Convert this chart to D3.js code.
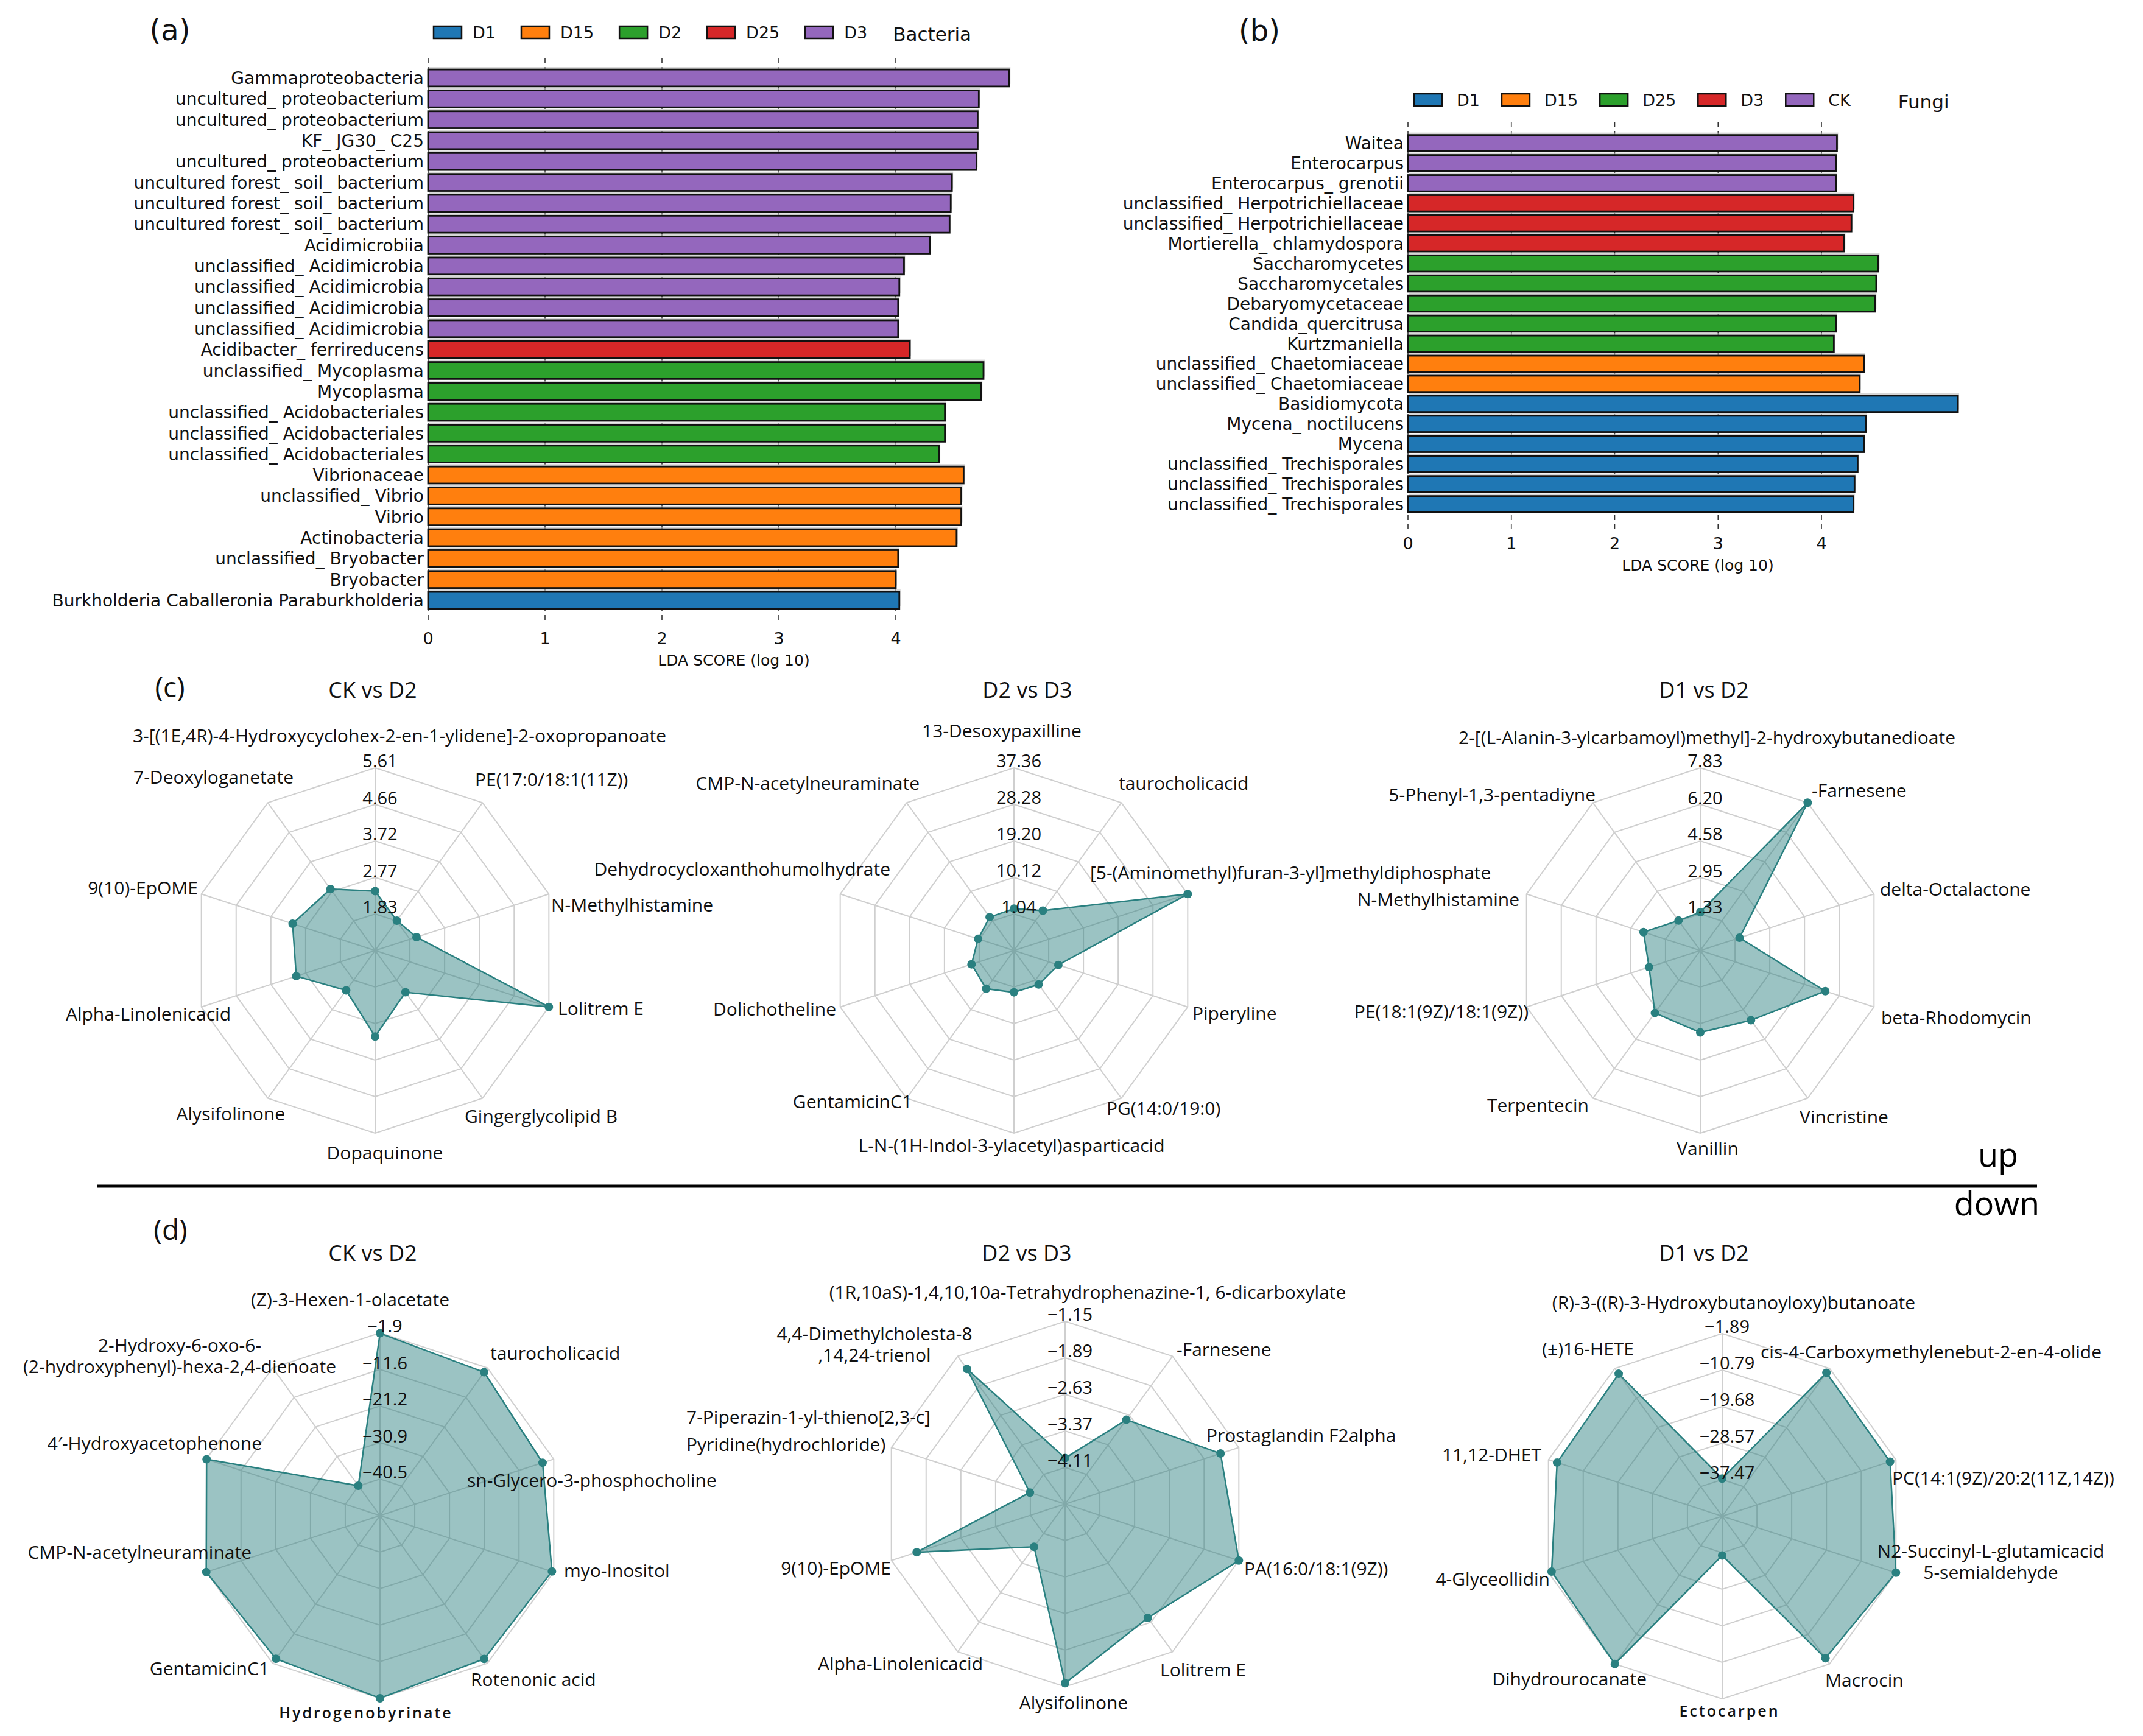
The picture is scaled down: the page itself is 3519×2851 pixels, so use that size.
<!DOCTYPE html>
<html>
<head>
<meta charset="utf-8">
<script src="https://cdn.jsdelivr.net/npm/d3@7"></script>
<style>
  body { margin: 0; background: #fff; }
  svg { display: block; }
</style>
</head>
<body>
<script>
// ---- (a) bacteria LEfSe ----
const bacteriaKeys = ["D1", "D15", "D2", "D25", "D3"];
const bacteriaTaxa = [
  "Gammaproteobacteria", "uncultured_ proteobacterium", "uncultured_ proteobacterium", "KF_ JG30_ C25",
  "uncultured_ proteobacterium", "uncultured forest_ soil_ bacterium", "uncultured forest_ soil_ bacterium",
  "uncultured forest_ soil_ bacterium", "Acidimicrobiia", "unclassified_ Acidimicrobia", "unclassified_ Acidimicrobia",
  "unclassified_ Acidimicrobia", "unclassified_ Acidimicrobia", "Acidibacter_ ferrireducens", "unclassified_ Mycoplasma",
  "Mycoplasma", "unclassified_ Acidobacteriales", "unclassified_ Acidobacteriales", "unclassified_ Acidobacteriales",
  "Vibrionaceae", "unclassified_ Vibrio", "Vibrio", "Actinobacteria", "unclassified_ Bryobacter", "Bryobacter",
  "Burkholderia Caballeronia Paraburkholderia"
];
const bacteriaGroups = [
  "D3", "D3", "D3", "D3", "D3", "D3", "D3", "D3", "D3", "D3", "D3", "D3", "D3",
  "D25", "D2", "D2", "D2", "D2", "D2", "D15", "D15", "D15", "D15", "D15", "D15", "D1"
];
const bacteriaScores = [
  4.97, 4.71, 4.70, 4.70, 4.69, 4.48, 4.47, 4.46, 4.29, 4.07, 4.03, 4.02, 4.02,
  4.12, 4.75, 4.73, 4.42, 4.42, 4.37, 4.58, 4.56, 4.56, 4.52, 4.02, 4.00, 4.03
];

// ---- (b) fungi LEfSe ----
const fungiKeys = ["D1", "D15", "D25", "D3", "CK"];
const fungiTaxa = [
  "Waitea", "Enterocarpus", "Enterocarpus_ grenotii", "unclassified_ Herpotrichiellaceae",
  "unclassified_ Herpotrichiellaceae", "Mortierella_ chlamydospora", "Saccharomycetes", "Saccharomycetales",
  "Debaryomycetaceae", "Candida_quercitrusa", "Kurtzmaniella", "unclassified_ Chaetomiaceae",
  "unclassified_ Chaetomiaceae", "Basidiomycota", "Mycena_ noctilucens", "Mycena",
  "unclassified_ Trechisporales", "unclassified_ Trechisporales", "unclassified_ Trechisporales"
];
const fungiGroups = [
  "CK", "CK", "CK", "D3", "D3", "D3", "D25", "D25", "D25", "D25", "D25",
  "D15", "D15", "D1", "D1", "D1", "D1", "D1", "D1"
];
const fungiScores = [
  4.15, 4.14, 4.14, 4.31, 4.29, 4.22, 4.55, 4.53, 4.52, 4.14, 4.12,
  4.41, 4.37, 5.32, 4.43, 4.41, 4.35, 4.32, 4.31
];
const ldaTicks = [0, 1, 2, 3, 4];

// ---- (c) up-regulated radars ----
const upCKD2Names = ["3-[(1E,4R)-4-Hydroxycyclohex-2-en-1-ylidene]-2-oxopropanoate", "PE(17:0/18:1(11Z))",
  "N-Methylhistamine", "Lolitrem E", "Gingerglycolipid B", "Dopaquinone", "Alysifolinone",
  "Alpha-Linolenicacid", "9(10)-EpOME", "7-Deoxyloganetate"];
const upCKD2Values = [2.42, 1.84, 2.01, 5.61, 2.22, 3.11, 2.16, 3.03, 3.13, 2.85];
const upCKD2Ticks = ["1.83", "2.77", "3.72", "4.66", "5.61"];

const upD2D3Names = ["13-Desoxypaxilline", "taurocholicacid", "[5-(Aminomethyl)furan-3-yl]methyldiphosphate",
  "Piperyline", "PG(14:0/19:0)", "L-N-(1H-Indol-3-ylacetyl)asparticacid", "GentamicinC1", "Dolichotheline",
  "Dehydrocycloxanthohumolhydrate", "CMP-N-acetylneuraminate"];
const upD2D3Values = [2.35, 4.2, 37.36, 3.56, 2.4, 2.35, 3.7, 3.05, 1.33, 2.22];
const upD2D3Ticks = ["1.04", "10.12", "19.20", "28.28", "37.36"];

const upD1D2Names = ["2-[(L-Alanin-3-ylcarbamoyl)methyl]-2-hydroxybutanedioate", "-Farnesene", "delta-Octalactone",
  "beta-Rhodomycin", "Vincristine", "Vanillin", "Terpentecin", "PE(18:1(9Z)/18:1(9Z))", "N-Methylhistamine",
  "5-Phenyl-1,3-pentadiyne"];
const upD1D2Values = [1.41, 7.83, 1.54, 5.55, 3.54, 3.35, 3.14, 2.1, 2.36, 1.35];
const upD1D2Ticks = ["1.33", "2.95", "4.58", "6.20", "7.83"];

// ---- (d) down-regulated radars ----
const downCKD2Names = ["(Z)-3-Hexen-1-olacetate", "taurocholicacid", "sn-Glycero-3-phosphocholine", "myo-Inositol",
  "Rotenonic acid", "Hydrogenobyrinate", "GentamicinC1", "CMP-N-acetylneuraminate", "4\u2032-Hydroxyacetophenone",
  "2-Hydroxy-6-oxo-6-\n(2-hydroxyphenyl)-hexa-2,4-dienoate"];
const downCKD2Values = [-2.0, -3.35, -5.0, -2.4, -3.35, -1.9, -3.4, -1.9, -2.0, -40.4];
const downCKD2Ticks = ["\u221240.5", "\u221230.9", "\u221221.2", "\u221211.6", "\u22121.9"];

const downD2D3Names = ["(1R,10aS)-1,4,10,10a-Tetrahydrophenazine-1, 6-dicarboxylate", "-Farnesene",
  "Prostaglandin F2alpha", "PA(16:0/18:1(9Z))", "Lolitrem E", "Alysifolinone", "Alpha-Linolenicacid",
  "9(10)-EpOME", "7-Piperazin-1-yl-thieno[2,3-c]\nPyridine(hydrochloride)", "4,4-Dimethylcholesta-8\n,14,24-trienol"];
const downD2D3Values = [-3.92, -2.74, -1.54, -1.15, -2.0, -1.22, -3.78, -1.69, -4.1, -1.47];
const downD2D3Ticks = ["\u22124.11", "\u22123.37", "\u22122.63", "\u22121.89", "\u22121.15"];

const downD1D2Names = ["(R)-3-((R)-3-Hydroxybutanoyloxy)butanoate", "cis-4-Carboxymethylenebut-2-en-4-olide",
  "PC(14:1(9Z)/20:2(11Z,14Z))", "N2-Succinyl-L-glutamicacid\n5-semialdehyde", "Macrocin", "Ectocarpen",
  "Dihydrourocanate", "4-Glyceollidin", "11,12-DHET", "(\u00b1)16-HETE"];
const downD1D2Values = [-37.2, -3.2, -3.4, -1.89, -3.6, -36.8, -1.89, -2.7, -4.1, -3.5];
const downD1D2Ticks = ["\u221237.47", "\u221228.57", "\u221219.68", "\u221210.79", "\u22121.89"];

// label placement around each radar: [anchor, dx, dy, lineGap, small]
const upCKD2Spots = [["middle", 40, -353], ["start", 164, -281], ["start", 289, -75], ["start", 300, 95],
  ["start", 147, 272], ["middle", 16, 332], ["end", -148, 268], ["end", -237, 104], ["end", -291, -103], ["end", -134, -285]];
const upD2D3Spots = [["middle", -20, -361], ["start", 172, -275], ["start", 125, -128], ["start", 293, 103],
  ["start", 152, 259], ["middle", -4, 320], ["end", -167, 248], ["end", -292, 96], ["end", -203, -134], ["end", -155, -275]];
const upD1D2Spots = [["middle", 11, -350], ["start", 183, -263], ["start", 295, -101], ["start", 297, 110],
  ["start", 163, 273], ["middle", 12, 325], ["end", -183, 254], ["end", -282, 100], ["end", -297, -84], ["end", -172, -256]];
const downCKD2Spots = [["middle", -49, -355], ["start", 181, -267], ["start", 143, -58], ["start", 302, 90],
  ["start", 149, 269], ["middle", -23, 324, 0, true], ["end", -182, 251], ["end", -211, 60], ["end", -194, -119],
  ["middle", -329, -280, 35]];
const downD2D3Spots = [["middle", 37, -348], ["start", 183, -254], ["start", 232, -113], ["start", 294, 106],
  ["start", 156, 272], ["middle", 14, 326], ["end", -135, 262], ["end", -286, 105], ["start", -622, -143, 45],
  ["middle", -313, -280, 35]];
const downD1D2Spots = [["middle", 19, -351], ["start", 63, -270], ["start", 279, -63], ["middle", 441, 57, 35],
  ["start", 169, 269], ["middle", 12, 320, 0, true], ["end", -124, 267], ["end", -283, 103], ["end", -297, -101],
  ["end", -145, -275]];

const W = 3519, H = 2851;
const BAR_FONT = "'DejaVu Sans', sans-serif";
const RADAR_FONT = "'Open Sans', sans-serif";
const TEAL = "#2a8080";

const svg = d3.select("body").append("svg")
  .attr("width", W)
  .attr("height", H)
  .style("background", "#fff");

function lefse(cfg) {
  const color = d3.scaleOrdinal().domain(cfg.keys).range(d3.schemeCategory10);
  const x = d3.scaleLinear().domain([0, 4]).range([cfg.x0, cfg.x4]);
  const y = d3.scalePoint().domain(d3.range(cfg.taxa.length)).range([cfg.yFirst, cfg.yLast]);
  const bh = y.step() * 0.81;
  const g = svg.append("g").style("font-family", BAR_FONT);

  // dashed grid
  g.selectAll("line.grid").data(ldaTicks).join("line")
    .attr("x1", d => x(d)).attr("x2", d => x(d))
    .attr("y1", cfg.gridTop).attr("y2", cfg.gridBot)
    .attr("stroke", "#333").attr("stroke-width", 1.6)
    .attr("stroke-dasharray", "9,6");

  // soft shadow then bars
  g.selectAll("rect.shadow").data(cfg.scores).join("rect")
    .attr("x", x(0) + 2).attr("y", (d, i) => y(i) - bh / 2 - 4)
    .attr("width", d => x(d) - x(0)).attr("height", bh)
    .attr("fill", "#bbb").attr("opacity", 0.6);

  g.selectAll("rect.bar").data(cfg.scores).join("rect")
    .attr("x", x(0)).attr("y", (d, i) => y(i) - bh / 2)
    .attr("width", d => x(d) - x(0)).attr("height", bh)
    .attr("fill", (d, i) => color(cfg.groups[i]))
    .attr("stroke", "#111").attr("stroke-width", 2.8);

  g.selectAll("text.taxon").data(cfg.taxa).join("text")
    .attr("x", x(0) - 7).attr("y", (d, i) => y(i))
    .attr("dy", "0.36em").attr("text-anchor", "end")
    .attr("font-size", 28).attr("fill", "#111")
    .text(d => d);

  g.selectAll("text.tick").data(ldaTicks).join("text")
    .attr("x", d => x(d)).attr("y", cfg.tickY)
    .attr("dy", "0.36em").attr("text-anchor", "middle")
    .attr("font-size", 27).attr("fill", "#111")
    .text(d => d);

  g.append("text")
    .attr("x", cfg.titleX).attr("y", cfg.titleY)
    .attr("dy", "0.36em").attr("text-anchor", "middle")
    .attr("font-size", 25).attr("fill", "#111")
    .text("LDA SCORE (log 10)");

  // legend
  let lx = cfg.legendX;
  cfg.keys.forEach(k => {
    g.append("rect")
      .attr("x", lx).attr("y", cfg.legendY - 10)
      .attr("width", 46).attr("height", 20)
      .attr("fill", color(k)).attr("stroke", "#111").attr("stroke-width", 2.5);
    const t = g.append("text")
      .attr("x", lx + cfg.textOff).attr("y", cfg.legendY)
      .attr("dy", "0.36em").attr("font-size", 27).attr("fill", "#111")
      .text(k);
    lx += cfg.textOff + t.node().getComputedTextLength() + cfg.legendGap;
  });
  g.append("text")
    .attr("x", lx + cfg.nameGap).attr("y", cfg.legendY + 3)
    .attr("dy", "0.36em").attr("font-size", 31).attr("fill", "#111")
    .text(cfg.name);
}

lefse({
  keys: bacteriaKeys, taxa: bacteriaTaxa, groups: bacteriaGroups, scores: bacteriaScores,
  x0: 703, x4: 1471, yFirst: 128, yLast: 986, gridTop: 95, gridBot: 1025,
  tickY: 1048, titleX: 1205, titleY: 1084,
  legendX: 712, legendY: 53, textOff: 64, legendGap: 42, nameGap: 0, name: "Bacteria"
});

lefse({
  keys: fungiKeys, taxa: fungiTaxa, groups: fungiGroups, scores: fungiScores,
  x0: 2312, x4: 2991, yFirst: 235, yLast: 828, gridTop: 200, gridBot: 872,
  tickY: 892, titleX: 2788, titleY: 928,
  legendX: 2322, legendY: 164, textOff: 70, legendGap: 36, nameGap: 42, name: "Fungi"
});

function radar(cx, cy, names, values, ticks, spots, title, titleX, titleY) {
  const R = 300, n = names.length;
  const tv = ticks.map(t => +t.replace("\u2212", "-"));
  const step = (tv[4] - tv[0]) / 4;
  const r = d3.scaleLinear().domain([tv[0] - step, tv[4]]).range([0, R]);
  const ang = d3.scaleLinear().domain([0, n]).range([0, 2 * Math.PI]);
  const g = svg.append("g")
    .attr("transform", `translate(${cx},${cy})`)
    .style("font-family", RADAR_FONT);

  const ring = d3.lineRadial()
    .angle((d, i) => ang(i))
    .radius(d => d)
    .curve(d3.curveLinearClosed);

  d3.range(1, 6).forEach(k => {
    g.append("path")
      .attr("d", ring(d3.range(n).map(() => k * R / 5)))
      .attr("fill", "none").attr("stroke", "#cfcfcf").attr("stroke-width", 2);
  });

  g.selectAll("line.spoke").data(d3.range(n)).join("line")
    .attr("x1", 0).attr("y1", 0)
    .attr("x2", i => R * Math.sin(ang(i)))
    .attr("y2", i => -R * Math.cos(ang(i)))
    .attr("stroke", "#cfcfcf").attr("stroke-width", 2);

  const area = d3.lineRadial()
    .angle((d, i) => ang(i))
    .radius(d => r(d))
    .curve(d3.curveLinearClosed);

  g.append("path")
    .attr("d", area(values))
    .attr("fill", TEAL).attr("fill-opacity", 0.47)
    .attr("stroke", TEAL).attr("stroke-width", 2.5);

  g.selectAll("circle").data(values).join("circle")
    .attr("cx", (d, i) => r(d) * Math.sin(ang(i)))
    .attr("cy", (d, i) => -r(d) * Math.cos(ang(i)))
    .attr("r", 7)
    .attr("fill", TEAL);

  ticks.forEach((t, k) => {
    g.append("text")
      .attr("x", 8).attr("y", -r(tv[k]) - 11)
      .attr("dy", "0.36em").attr("text-anchor", "middle")
      .attr("font-size", 29).attr("fill", "#111")
      .text(t);
  });

  names.forEach((name, i) => {
    const [anchor, dx, dy, gap, small] = spots[i];
    const lines = name.split("\n");
    const txt = g.append("text")
      .attr("text-anchor", anchor)
      .attr("font-size", small ? 25 : 30)
      .attr("fill", "#111")
      .style("letter-spacing", small ? "3px" : null)
      .style("font-weight", small ? 600 : null);
    lines.forEach((ln, j) => {
      txt.append("tspan")
        .attr("x", dx)
        .attr("y", dy + j * (gap || 34))
        .attr("dy", "0.36em")
        .text(ln);
    });
  });

  svg.append("text")
    .attr("x", titleX).attr("y", titleY)
    .attr("text-anchor", "middle")
    .attr("font-family", RADAR_FONT)
    .attr("font-size", 36).attr("fill", "#111")
    .text(title);
}

radar(616, 1561, upCKD2Names, upCKD2Values, upCKD2Ticks, upCKD2Spots, "CK vs D2", 612, 1146);
radar(1665, 1561, upD2D3Names, upD2D3Values, upD2D3Ticks, upD2D3Spots, "D2 vs D3", 1687, 1146);
radar(2792, 1561, upD1D2Names, upD1D2Values, upD1D2Ticks, upD1D2Spots, "D1 vs D2", 2798, 1146);

radar(624, 2489, downCKD2Names, downCKD2Values, downCKD2Ticks, downCKD2Spots, "CK vs D2", 612, 2071);
radar(1749, 2470, downD2D3Names, downD2D3Values, downD2D3Ticks, downD2D3Spots, "D2 vs D3", 1686, 2071);
radar(2828, 2490, downD1D2Names, downD1D2Values, downD1D2Ticks, downD1D2Spots, "D1 vs D2", 2798, 2071);

// panel letters
[["(a)", 279, 66, BAR_FONT, 48], ["(b)", 2068, 67, BAR_FONT, 48],
 ["(c)", 279, 1145, RADAR_FONT, 46], ["(d)", 280, 2036, RADAR_FONT, 46]].forEach(([t, x, y, f, s]) => {
  svg.append("text")
    .attr("x", x).attr("y", y)
    .attr("text-anchor", "middle")
    .attr("font-family", f).attr("font-size", s).attr("fill", "#111")
    .text(t);
});

// up / down divider
svg.append("line")
  .attr("x1", 160).attr("x2", 3345)
  .attr("y1", 1948).attr("y2", 1948)
  .attr("stroke", "#000").attr("stroke-width", 5);

svg.append("text")
  .attr("x", 3281).attr("y", 1916)
  .attr("text-anchor", "middle")
  .attr("font-family", RADAR_FONT).attr("font-size", 54).attr("fill", "#000")
  .text("up");

svg.append("text")
  .attr("x", 3279).attr("y", 1996)
  .attr("text-anchor", "middle")
  .attr("font-family", RADAR_FONT).attr("font-size", 54).attr("fill", "#000")
  .text("down");
</script>
</body>
</html>
